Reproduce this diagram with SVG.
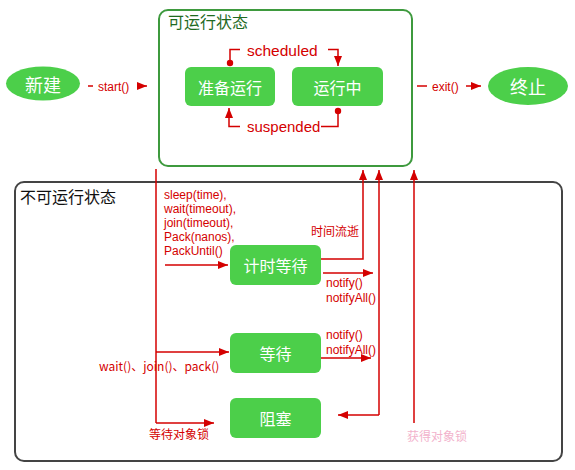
<svg xmlns="http://www.w3.org/2000/svg" width="575" height="470" viewBox="0 0 575 470">
<defs>
<marker id="ah" viewBox="0 0 10 8" refX="10" refY="4" markerWidth="10" markerHeight="8" markerUnits="userSpaceOnUse" orient="auto">
<path d="M0,0 L10,4 L0,8 z" fill="#d40000"/>
</marker>
</defs>
<style>
.cn{font-family:"Noto Sans CJK SC","Liberation Sans",sans-serif}
.lat{font-family:"Liberation Sans","Noto Sans CJK SC",sans-serif}
.node{fill:#4ccf4a}
.nt{fill:#ffffff;font-size:16px;text-anchor:middle;dominant-baseline:central}
.big{font-size:18px}
.lbl{fill:#d40000;font-size:12px}
.ln{fill:none;stroke:#d40000;stroke-width:1.5}
.arr{marker-end:url(#ah)}
</style>
<g id="runnable">
<rect x="159" y="10" width="253" height="156" rx="9" fill="none" stroke="#3e9a3e" stroke-width="2"/>
<text x="168" y="28" class="cn" font-size="16" fill="#1f6a1f">可运行状态</text>
</g>
<g id="notrunnable">
<rect x="15" y="182" width="547" height="279" rx="9" fill="none" stroke="#444444" stroke-width="2"/>
<text x="20" y="203" class="cn" font-size="16" fill="#111111">不可运行状态</text>
</g>
<g id="new">
<ellipse cx="43" cy="83.5" rx="37" ry="17" class="node"/>
<text x="43" y="83.5" class="cn nt big">新建</text>
</g>
<g id="terminated">
<ellipse cx="528" cy="86" rx="40" ry="19" class="node"/>
<text x="528" y="86" class="cn nt big">终止</text>
</g>
<g id="ready">
<rect x="185" y="67" width="90" height="39" rx="6" class="node"/>
<text x="230" y="86.5" class="cn nt">准备运行</text>
</g>
<g id="running">
<rect x="292" y="67" width="91" height="39" rx="6" class="node"/>
<text x="337.5" y="86.5" class="cn nt">运行中</text>
</g>
<g id="timedwaiting">
<rect x="230" y="245" width="91" height="40" rx="6" class="node"/>
<text x="275.5" y="265" class="cn nt">计时等待</text>
</g>
<g id="waiting">
<rect x="230" y="333" width="91" height="40" rx="6" class="node"/>
<text x="275.5" y="353" class="cn nt">等待</text>
</g>
<g id="blocked">
<rect x="230" y="398" width="91" height="40" rx="6" class="node"/>
<text x="275.5" y="418" class="cn nt">阻塞</text>
</g>
<g id="connectors">
<!-- start -->
<line x1="88" y1="86" x2="93" y2="86" class="ln"/>
<line x1="137" y1="86" x2="147" y2="86" class="ln arr"/>
<text x="98" y="90.5" class="lat lbl" font-size="12.5">start()</text>
<!-- exit -->
<line x1="417" y1="86" x2="427" y2="86" class="ln"/>
<line x1="466" y1="86" x2="481" y2="86" class="ln arr"/>
<text x="432" y="90.5" class="lat lbl" font-size="12.5">exit()</text>
<!-- scheduled -->
<circle cx="230" cy="63" r="3.2" fill="#d40000"/>
<polyline points="230,63 230,49.5 240,49.5" class="ln"/>
<polyline points="328,49.5 338,49.5 338,66" class="ln arr"/>
<text x="247" y="55.5" class="lat" font-size="15.5" fill="#d40000">scheduled</text>
<!-- suspended -->
<circle cx="338" cy="111" r="3.2" fill="#d40000"/>
<polyline points="338,111 338,126.5 321,126.5" class="ln"/>
<polyline points="240,126.5 229,126.5 229,108" class="ln arr"/>
<text x="247" y="132" class="lat" font-size="15" fill="#d40000">suspended</text>
<!-- left vertical -->
<line x1="156" y1="169" x2="156" y2="423" class="ln"/>
<line x1="165" y1="265" x2="228" y2="265" class="ln arr"/>
<line x1="156" y1="352" x2="229" y2="352" class="ln arr"/>
<line x1="156" y1="423" x2="214" y2="423" class="ln arr"/>
<text class="lat lbl">
<tspan x="164" y="199">sleep(time),</tspan>
<tspan x="164" y="213">wait(timeout),</tspan>
<tspan x="164" y="227">join(timeout),</tspan>
<tspan x="164" y="241">Pack(nanos),</tspan>
<tspan x="164" y="255">PackUntil()</tspan>
</text>
<text x="99" y="371" class="cn lbl">wait()、join()、pack()</text>
<text x="149" y="439" class="cn lbl">等待对象锁</text>
<!-- time elapsed -->
<polyline points="321,259 363,259 363,170" class="ln arr"/>
<text x="311" y="236" class="cn lbl">时间流逝</text>
<!-- notify from timed waiting -->
<line x1="323" y1="273" x2="373" y2="273" class="ln arr"/>
<text class="lat lbl"><tspan x="326" y="287">notify()</tspan><tspan x="326" y="302">notifyAll()</tspan></text>
<!-- notify from waiting -->
<line x1="321" y1="358" x2="371" y2="358" class="ln arr"/>
<text class="lat lbl"><tspan x="326" y="339">notify()</tspan><tspan x="326" y="354">notifyAll()</tspan></text>
<!-- to blocked / up -->
<line x1="379" y1="415" x2="379" y2="170" class="ln arr"/>
<polyline points="379,415 338,415" class="ln arr"/>
<!-- acquire lock -->
<line x1="414" y1="423" x2="414" y2="170" class="ln arr"/>
<text x="407" y="441" class="cn" font-size="12" fill="#f0a0c0" opacity="0.8">获得对象锁</text>
</g>
</svg>
